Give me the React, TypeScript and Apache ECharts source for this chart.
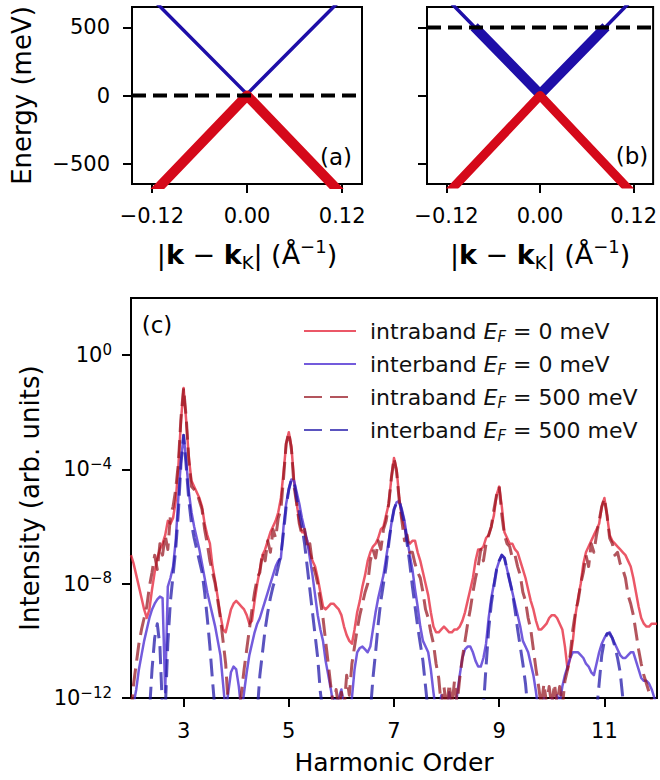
import React, { useEffect, useRef } from "react";
import * as echarts from "echarts";

const FONT = "DejaVu Sans";

// ---------- axes ----------
const kTicks = [-0.12, 0, 0.12];
const energyTicks = [-500, 0, 500];
const harmonicTicks = [3, 5, 7, 9, 11];
const decadeTicks = [-12, -8, -4, 0];
const kRange = [-0.145, 0.145];
const energyRange = [-650, 650];
const harmonicRange = [2, 12];
const decadeRange = [-12, 2];

// ---------- band structure (k in 1/Å, E in meV) ----------
const conductionBand = [[-0.15, 890], [0, 10], [0.15, 890]];
const valenceBand = [[-0.15, -910], [0, 0], [0.15, -910]];
const conductionOccupiedB = [[-0.0845, 505], [0, 10], [0.0845, 505]];
const fermiLevels = [0, 500];

// ---------- HHG spectra: harmonic order and log10(intensity) ----------
const harmonic = [
  2,2.05,2.1,2.15,2.2,2.25,2.3,2.35,2.4,2.45,2.5,2.55,2.6,2.65,2.7,2.75,2.8,2.85,2.9,2.95,
  3,3.05,3.1,3.15,3.2,3.25,3.3,3.35,3.4,3.45,3.5,3.55,3.6,3.65,3.7,3.75,3.8,3.85,3.9,3.95,
  4,4.05,4.1,4.15,4.2,4.25,4.3,4.35,4.4,4.45,4.5,4.55,4.6,4.65,4.7,4.75,4.8,4.85,4.9,4.95,
  5,5.05,5.1,5.15,5.2,5.25,5.3,5.35,5.4,5.45,5.5,5.55,5.6,5.65,5.7,5.75,5.8,5.85,5.9,5.95,
  6,6.05,6.1,6.15,6.2,6.25,6.3,6.35,6.4,6.45,6.5,6.55,6.6,6.65,6.7,6.75,6.8,6.85,6.9,6.95,
  7,7.05,7.1,7.15,7.2,7.25,7.3,7.35,7.4,7.45,7.5,7.55,7.6,7.65,7.7,7.75,7.8,7.85,7.9,7.95,
  8,8.05,8.1,8.15,8.2,8.25,8.3,8.35,8.4,8.45,8.5,8.55,8.6,8.65,8.7,8.75,8.8,8.85,8.9,8.95,
  9,9.05,9.1,9.15,9.2,9.25,9.3,9.35,9.4,9.45,9.5,9.55,9.6,9.65,9.7,9.75,9.8,9.85,9.9,9.95,
  10,10.05,10.1,10.15,10.2,10.25,10.3,10.35,10.4,10.45,10.5,10.55,10.6,10.65,10.7,10.75,10.8,10.85,10.9,10.95,
  11,11.05,11.1,11.15,11.2,11.25,11.3,11.35,11.4,11.45,11.5,11.55,11.6,11.65,11.7,11.75,11.8,11.85,11.9,11.95,
  12,
];

const intraband0 = [
  -7.0,-7.3,-7.7,-8.1,-8.5,-8.9,-9.2,-8.9,-8.2,-7.6,-7.1,-6.8,-6.6,-6.3,-5.8,-5.9,-5.7,-5.1,-3.9,-2.3,
  -1.15,-2.3,-3.6,-4.4,-4.6,-4.8,-5.0,-5.3,-5.9,-6.3,-6.6,-7.4,-7.9,-8.5,-9.1,-9.6,-9.7,-9.3,-8.9,-8.7,
  -8.6,-8.7,-8.8,-8.9,-9.1,-9.4,-9.3,-8.6,-8.0,-7.5,-7.0,-6.8,-6.5,-6.2,-6.0,-5.8,-5.5,-5.0,-4.1,-3.1,
  -2.7,-3.2,-4.4,-5.2,-5.8,-6.2,-6.2,-6.5,-6.9,-7.2,-7.4,-7.8,-8.3,-8.8,-8.9,-8.8,-8.7,-8.7,-8.8,-8.9,
  -9.1,-9.5,-9.8,-10.0,-10.1,-9.6,-9.0,-8.6,-8.1,-7.7,-7.2,-6.9,-6.7,-6.6,-6.4,-6.1,-6.0,-5.6,-5.2,-4.3,
  -3.6,-4.0,-5.0,-5.7,-6.0,-6.5,-6.6,-6.5,-6.5,-6.9,-7.2,-7.6,-8.0,-8.4,-9.0,-9.5,-9.7,-9.7,-9.6,-9.5,
  -9.6,-9.7,-9.7,-9.6,-9.6,-9.5,-9.3,-9.0,-8.6,-8.2,-7.8,-7.2,-6.8,-6.8,-6.7,-6.4,-6.3,-6.0,-5.6,-4.9,
  -4.6,-5.3,-6.2,-6.4,-6.6,-6.6,-6.8,-6.9,-7.2,-7.5,-7.8,-8.2,-8.6,-8.9,-9.3,-9.6,-9.6,-9.5,-9.4,-9.2,
  -9.1,-9.1,-9.2,-9.4,-9.6,-10.2,-11.0,-10.6,-10.0,-9.1,-8.5,-8.0,-7.3,-6.9,-6.7,-6.5,-6.3,-6.1,-5.9,-5.3,
  -5.0,-5.6,-6.3,-6.5,-6.6,-6.7,-6.8,-6.9,-7.0,-7.2,-7.4,-7.8,-8.3,-8.8,-9.2,-9.4,-9.5,-9.5,-9.4,-9.4,
  -9.4,
];

const interband0 = [
  -12.5,-12.2,-11.7,-11.0,-10.5,-10.0,-9.6,-9.2,-8.9,-8.7,-8.55,-8.45,-8.5,-11.8,-8.1,-7.8,-7.4,-6.5,-5.0,-3.7,
  -2.8,-3.7,-4.8,-5.5,-6.0,-6.4,-6.8,-7.3,-7.8,-8.3,-8.7,-9.1,-9.5,-10.0,-10.5,-11.5,-12.5,-11.8,-11.1,-10.9,
  -11.0,-11.6,-12.5,-11.8,-11.1,-10.5,-10.1,-9.7,-9.4,-9.2,-8.9,-8.6,-8.3,-8.0,-7.7,-7.4,-7.2,-7.1,-6.0,-5.2,
  -4.7,-4.35,-4.4,-4.8,-5.2,-5.7,-6.1,-6.5,-7.1,-7.7,-8.4,-9.1,-9.6,-10.0,-10.7,-11.2,-11.7,-12.3,-12.5,-12.0,
  -11.7,-12.3,-12.5,-12.5,-12.0,-11.0,-10.4,-10.25,-10.2,-10.3,-10.4,-10.2,-9.6,-9.0,-8.5,-8.1,-7.7,-7.1,-6.5,-5.9,
  -5.4,-5.15,-5.1,-5.4,-5.8,-6.4,-7.0,-7.5,-8.2,-8.8,-9.5,-10.0,-10.2,-10.4,-11.0,-11.8,-12.5,-12.5,-11.9,-12.5,
  -12.5,-11.8,-12.4,-12.5,-11.9,-11.2,-10.6,-10.3,-10.2,-10.2,-10.4,-10.7,-10.9,-10.9,-10.6,-10.1,-9.2,-8.5,-8.0,-7.5,
  -7.2,-7.0,-7.1,-7.5,-7.9,-8.3,-8.7,-9.1,-9.5,-10.0,-10.2,-10.4,-10.8,-11.2,-11.8,-12.5,-12.5,-12.0,-12.5,-12.5,
  -12.0,-12.5,-11.9,-12.2,-11.6,-11.2,-10.9,-10.6,-10.4,-10.4,-10.4,-10.5,-10.6,-10.8,-10.9,-11.1,-11.2,-10.8,-10.4,-10.1,
  -9.9,-9.75,-9.7,-9.9,-10.1,-10.3,-10.5,-10.6,-10.6,-10.5,-10.4,-10.4,-10.7,-11.0,-11.3,-11.4,-11.4,-11.5,-11.7,-12.0,
  -12.3,
];

const intraband500 = [
  -12.5,-11.5,-10.8,-10.1,-9.6,-9.2,-8.8,-8.1,-7.6,-7.0,-7.5,-6.6,-7.0,-6.3,-6.8,-5.6,-5.3,-4.7,-3.8,-2.2,
  -1.15,-2.2,-3.7,-4.6,-4.7,-4.8,-5.1,-5.4,-6.1,-6.6,-7.2,-7.6,-8.0,-8.6,-9.2,-10.0,-10.8,-12.3,-12.5,-12.5,
  -12.5,-12.5,-11.8,-11.0,-10.3,-9.6,-8.9,-8.3,-7.8,-7.6,-6.9,-7.2,-6.5,-6.9,-6.1,-6.4,-5.7,-5.4,-4.3,-3.1,
  -2.7,-3.3,-4.6,-5.2,-5.9,-6.3,-6.1,-6.8,-6.6,-7.3,-7.6,-8.0,-8.6,-9.2,-10.0,-10.8,-11.6,-12.3,-11.7,-12.4,
  -11.8,-12.4,-11.2,-11.9,-10.8,-10.2,-9.6,-9.1,-8.7,-8.3,-8.0,-7.2,-6.8,-7.1,-6.5,-6.8,-6.1,-5.8,-5.2,-4.3,
  -3.6,-4.1,-5.1,-5.8,-6.5,-6.3,-6.9,-6.9,-7.3,-7.6,-7.8,-8.3,-8.9,-9.2,-9.7,-10.1,-10.8,-11.3,-12.3,-11.6,
  -12.4,-11.5,-12.3,-11.4,-12.2,-11.3,-10.6,-10.0,-9.4,-8.9,-8.3,-7.8,-7.4,-6.8,-7.2,-6.6,-6.3,-6.0,-5.4,-4.9,
  -4.6,-5.6,-6.3,-6.6,-6.7,-7.1,-7.0,-7.4,-7.7,-8.3,-8.6,-9.2,-9.6,-10.3,-11.0,-11.6,-12.3,-11.5,-12.2,-11.6,
  -12.3,-11.5,-12.2,-11.6,-12.3,-11.4,-11.0,-10.5,-9.6,-9.0,-8.6,-8.0,-7.6,-7.0,-7.4,-6.6,-6.9,-6.3,-5.8,-5.3,
  -5.0,-5.6,-6.4,-6.6,-7.0,-6.9,-7.3,-7.5,-7.8,-8.4,-8.7,-9.1,-9.7,-10.3,-10.8,-11.2,-11.5,-11.8,-12.1,-12.3,
  -12.4,
];

const interband500 = [
  -12.5,-12.5,-12.5,-12.5,-12.5,-12.5,-12.5,-12.5,-11.0,-9.9,-9.4,-10.2,-12.5,-12.5,-10.1,-8.6,-7.7,-6.8,-5.5,-3.8,
  -2.8,-3.9,-5.1,-5.9,-6.4,-6.8,-7.2,-7.6,-8.3,-9.2,-10.2,-11.4,-12.5,-12.5,-12.5,-12.5,-12.5,-12.5,-12.5,-12.5,
  -12.5,-12.5,-12.5,-12.5,-12.5,-12.5,-12.5,-12.5,-12.5,-11.2,-10.4,-9.6,-9.0,-8.5,-8.1,-7.8,-7.4,-7.0,-6.2,-5.3,
  -4.7,-4.35,-4.45,-5.0,-5.5,-6.0,-6.6,-7.4,-8.2,-9.0,-9.8,-10.6,-11.8,-12.5,-12.5,-12.5,-12.5,-12.2,-11.9,-12.3,
  -12.5,-12.5,-12.5,-12.5,-12.5,-12.5,-12.5,-12.5,-12.5,-12.5,-12.5,-12.5,-11.3,-10.4,-9.4,-8.6,-8.0,-7.4,-6.6,-5.9,
  -5.4,-5.15,-5.1,-5.5,-5.9,-6.6,-7.3,-8.1,-8.8,-9.5,-10.1,-10.7,-11.6,-12.5,-12.5,-12.5,-12.5,-12.5,-12.5,-12.5,
  -12.5,-12.5,-12.5,-12.5,-12.5,-12.5,-12.5,-12.5,-12.5,-12.5,-12.5,-12.5,-12.5,-12.5,-12.3,-10.9,-9.6,-8.7,-8.1,-7.5,
  -7.2,-7.0,-7.1,-7.5,-7.9,-8.3,-8.9,-9.6,-10.2,-10.8,-11.5,-12.5,-12.5,-12.5,-12.5,-12.5,-12.5,-12.5,-12.5,-12.5,
  -12.5,-12.5,-12.5,-12.5,-12.5,-12.5,-12.5,-12.5,-12.5,-12.5,-12.5,-12.5,-12.5,-12.5,-12.5,-12.5,-12.5,-12.5,-11.5,-10.5,
  -10.0,-9.75,-9.75,-9.9,-10.2,-10.6,-11.1,-12.0,-12.5,-12.5,-12.5,-12.5,-12.5,-12.5,-12.5,-12.5,-12.5,-12.5,-12.5,-12.5,
  -12.5,
];

const bandKind = ["intraband", "interband", "intraband", "interband"];
const fermiMeV = [0, 0, 500, 500];
const seriesValues = [intraband0, interband0, intraband500, interband500];
const seriesColors = [
  "rgba(230, 40, 60, 0.78)",
  "rgba(75, 45, 210, 0.78)",
  "rgba(150, 20, 30, 0.72)",
  "rgba(35, 25, 170, 0.75)",
];
const seriesDashed = [false, false, true, true];

const BAND_BLUE = "#1e0ea8";
const BAND_RED = "#d5091a";

const minus = (s: string) => s.replace("-", "\u2212");

export default function App() {
  const ref = useRef<HTMLDivElement>(null);

  useEffect(() => {
    const chart = echarts.init(ref.current!, null, { renderer: "svg" });

    const names = bandKind.map((b, i) => `${b} E_F = ${fermiMeV[i]} meV`);

    const tickStyle = { show: true, length: 9, lineStyle: { color: "#000", width: 2 } };
    const hiddenLine = { show: false, onZero: false };
    const labelBase = { color: "#000", fontFamily: FONT, fontSize: 21 };
    const gridBox = { show: true, borderColor: "#000", borderWidth: 2, backgroundColor: "transparent" };

    const kName = "|{bk|k} \u2212 {bk|k}{sub|K}| (\u00c5{sup|\u22121})";
    const kNameStyle = {
      fontFamily: FONT, fontSize: 27, color: "#000", lineHeight: 34,
      rich: {
        bk: { fontFamily: FONT, fontSize: 27, fontWeight: "bold", color: "#000", lineHeight: 34 },
        sub: { fontFamily: FONT, fontSize: 18, color: "#000", lineHeight: 18, verticalAlign: "bottom" },
        sup: { fontFamily: FONT, fontSize: 18, color: "#000", lineHeight: 18, verticalAlign: "top" },
      },
    };

    const kAxis = (gi: number) => ({
      type: "value", gridIndex: gi, min: kRange[0], max: kRange[1],
      axisLine: hiddenLine,
      axisTick: { ...tickStyle, customValues: kTicks },
      splitLine: { show: false },
      axisLabel: { ...labelBase, margin: 21, customValues: kTicks, formatter: (v: number) => minus(v.toFixed(2)) },
      name: kName, nameLocation: "middle", nameGap: 53, nameTextStyle: kNameStyle,
    });
    const eAxis = (gi: number, showLabels: boolean) => ({
      type: "value", gridIndex: gi, min: energyRange[0], max: energyRange[1],
      axisLine: hiddenLine,
      axisTick: { ...tickStyle, customValues: energyTicks },
      splitLine: { show: false },
      axisLabel: { ...labelBase, show: showLabels, margin: 22, customValues: energyTicks, formatter: (v: number) => minus(String(v)) },
      name: showLabels ? "Energy (meV)" : "",
      nameLocation: "middle", nameGap: 97,
      nameTextStyle: { fontFamily: FONT, fontSize: 26, color: "#000" },
    });

    const bandLine = (gi: number, data: number[][], color: string, width: number, z: number, dashed = false) => ({
      type: "line", xAxisIndex: gi, yAxisIndex: gi, data, symbol: "none", silent: true, z,
      lineStyle: { color, width, join: "round", cap: "butt", type: dashed ? [14, 7] : "solid" },
    });
    const fermiLine = (gi: number, e: number) =>
      bandLine(gi, [[kRange[0], e], [kRange[1], e]], "#000", 4, 10, true);

    const spectra = seriesValues.map((vals, i) => ({
      type: "line", name: names[i], xAxisIndex: 2, yAxisIndex: 2,
      data: harmonic.map((h, j) => [h, vals[j]]),
      symbol: "none", showSymbol: false, silent: true, z: 3 + i,
      lineStyle: {
        color: seriesColors[i], width: seriesDashed[i] ? 3 : 2.5,
        type: seriesDashed[i] ? [18, 8] : "solid", join: "round",
      },
      itemStyle: { color: seriesColors[i] },
    }));

    const legendRich = {
      it: { fontFamily: FONT, fontSize: 22, fontStyle: "italic", color: "#111", lineHeight: 26 },
      sub: { fontFamily: FONT, fontSize: 15, fontStyle: "italic", color: "#111", lineHeight: 15, verticalAlign: "bottom" },
    };

    const option = {
      animation: false,
      backgroundColor: "#fff",
      grid: [
        { left: 132, top: 7, width: 230, height: 177, ...gridBox },
        { left: 427, top: 7, width: 228, height: 177, ...gridBox },
        { left: 131, top: 298, width: 526, height: 404, ...gridBox },
      ],
      xAxis: [
        kAxis(0),
        kAxis(1),
        {
          type: "value", gridIndex: 2, min: harmonicRange[0], max: harmonicRange[1],
          axisLine: hiddenLine,
          axisTick: { ...tickStyle, customValues: harmonicTicks },
          splitLine: { show: false },
          axisLabel: { ...labelBase, margin: 22, customValues: harmonicTicks },
          name: "Harmonic Order", nameLocation: "middle", nameGap: 52,
          nameTextStyle: { fontFamily: FONT, fontSize: 25, color: "#000" },
        },
      ],
      yAxis: [
        eAxis(0, true),
        eAxis(1, false),
        {
          type: "value", gridIndex: 2, min: decadeRange[0], max: decadeRange[1],
          axisLine: hiddenLine,
          axisTick: { ...tickStyle, customValues: decadeTicks },
          splitLine: { show: false },
          axisLabel: {
            ...labelBase, margin: 19, customValues: decadeTicks,
            formatter: (v: number) => `{b|10}{s|${v === 0 ? "0" : "\u2212" + -v}}`,
            rich: {
              b: { fontFamily: FONT, fontSize: 21, color: "#000", lineHeight: 26 },
              s: { fontFamily: FONT, fontSize: 15, color: "#000", lineHeight: 15, verticalAlign: "top" },
            },
          },
          name: "Intensity (arb. units)", nameLocation: "middle", nameGap: 88,
          nameTextStyle: { fontFamily: FONT, fontSize: 26, color: "#000" },
        },
      ],
      legend: {
        data: names, orient: "vertical", left: 303, top: 318, padding: 0,
        itemWidth: 52, itemHeight: 14, itemGap: 7, selectedMode: false,
        itemStyle: { opacity: 0 },
        formatter: (n: string) => {
          const i = names.indexOf(n);
          return `${bandKind[i]} {it|E}{sub|F} = ${fermiMeV[i]} meV`;
        },
        textStyle: { fontFamily: FONT, fontSize: 22, color: "#111", lineHeight: 26, padding: [0, 0, 0, 9], rich: legendRich },
      },
      graphic: [
        { type: "text", x: 336, y: 157, style: { text: "(a)", fontFamily: FONT, fontSize: 23, fill: "#000", align: "center", verticalAlign: "middle", textAlign: "center", textVerticalAlign: "middle" } },
        { type: "text", x: 632, y: 156, style: { text: "(b)", fontFamily: FONT, fontSize: 23, fill: "#000", align: "center", verticalAlign: "middle", textAlign: "center", textVerticalAlign: "middle" } },
        { type: "text", x: 157, y: 325, style: { text: "(c)", fontFamily: FONT, fontSize: 23, fill: "#000", align: "center", verticalAlign: "middle", textAlign: "center", textVerticalAlign: "middle" } },
      ],
      series: [
        bandLine(0, conductionBand, BAND_BLUE, 3.5, 2),
        bandLine(0, valenceBand, BAND_RED, 10, 3),
        fermiLine(0, fermiLevels[0]),
        bandLine(1, conductionBand, BAND_BLUE, 3.5, 2),
        bandLine(1, conductionOccupiedB, BAND_BLUE, 10, 3),
        bandLine(1, valenceBand, BAND_RED, 9, 3),
        fermiLine(1, fermiLevels[1]),
        ...spectra,
      ],
    };

    chart.setOption(option as any);
    return () => chart.dispose();
  }, []);

  return (
    <div
      ref={ref}
      style={{ position: "absolute", left: 0, top: 0, width: 660, height: 780, background: "#fff" }}
    />
  );
}
